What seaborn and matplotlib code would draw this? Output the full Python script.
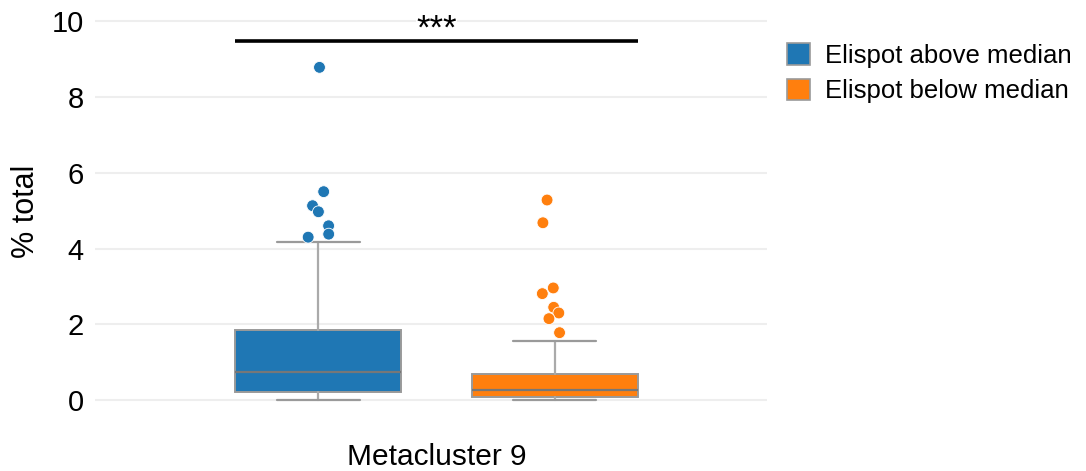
import numpy as np
import pandas as pd
import matplotlib
matplotlib.use("Agg")
import matplotlib.pyplot as plt
from matplotlib.patches import Patch
import seaborn as sns

# ---- data -------------------------------------------------------------
cluster = "Metacluster 9"
groups = ["Elispot above median", "Elispot below median"]
colors = ["#1f77b4", "#ff7f0e"]

# five-number summaries (whisker low, Q1, median, Q3, whisker high)
whisker_low = [0.0, 0.0]
q1 = [0.22, 0.07]
medians = [0.74, 0.26]
q3 = [1.84, 0.70]
whisker_high = [4.16, 1.56]

# points beyond the whiskers
outliers_above = [8.78, 5.50, 5.13, 4.97, 4.60, 4.38, 4.30]
outliers_below = [5.28, 4.68, 2.96, 2.81, 2.45, 2.30, 2.15, 1.78]

sig_label = "***"
sig_y = 9.47
y_ticks = [0, 2, 4, 6, 8, 10]

# ---- style ------------------------------------------------------------
sns.set_theme(style="white")
plt.rcParams["font.family"] = ["Liberation Sans", "DejaVu Sans"]
plt.rcParams["text.color"] = "black"
plt.rcParams["axes.labelcolor"] = "black"
plt.rcParams["xtick.color"] = "black"
plt.rcParams["ytick.color"] = "black"

fig = plt.figure(figsize=(10.86, 4.71), dpi=100)
ax = fig.add_axes([0.0875, 0.1295, 0.6185, 0.845])

# outlier points, dodged by group
pts = pd.DataFrame({
    "cluster": cluster,
    "group": [groups[0]] * len(outliers_above) + [groups[1]] * len(outliers_below),
    "value": outliers_above + outliers_below,
})
np.random.seed(3)
sns.stripplot(data=pts, x="cluster", y="value", hue="group", hue_order=groups,
              palette=colors, dodge=True, jitter=0.045, size=8.5,
              linewidth=0.6, edgecolor="white", ax=ax, legend=False, zorder=3)

# boxes from the summaries
positions = [-0.2, 0.2]
box_w = 0.28
stats = []
for i in range(2):
    stats.append(dict(whislo=whisker_low[i], q1=q1[i], med=medians[i],
                      q3=q3[i], whishi=whisker_high[i], fliers=[]))
bp = ax.bxp(stats, positions=positions, widths=box_w, patch_artist=True,
            showfliers=False, manage_ticks=False,
            boxprops=dict(edgecolor="#9a9a9a", linewidth=1.4),
            medianprops=dict(color="#777777", linewidth=1.6),
            whiskerprops=dict(color="#aaaaaa", linewidth=1.6),
            capprops=dict(color="#9a9a9a", linewidth=1.6),
            capwidths=box_w / 2)
for patch, c in zip(bp["boxes"], colors):
    patch.set_facecolor(c)
    patch.set_zorder(2)

# significance bar
x0 = positions[0] - box_w / 2
x1 = positions[1] + box_w / 2
ax.plot([x0, x1], [sig_y, sig_y], color="black", lw=2.6, solid_capstyle="butt", zorder=5)
ax.text((x0 + x1) / 2, sig_y - 0.12, sig_label, ha="center", va="bottom",
        fontsize=25, color="black", zorder=4,
        bbox=dict(facecolor="white", edgecolor="none", pad=0.5))

# axes
ax.set_xlim(-0.577, 0.558)
ax.set_ylim(-0.26, 10.24)
ax.set_yticks(y_ticks)
ax.set_xticks([0])
ax.set_xticklabels([cluster])
ax.set_xlabel("")
ax.set_ylabel("% total", fontsize=22, labelpad=8)
ax.tick_params(axis="y", labelsize=21, length=0, pad=8)
ax.tick_params(axis="x", labelsize=21.5, length=0, pad=24)
ax.yaxis.grid(True, color="#eeeeee", linewidth=1.5)
ax.set_axisbelow(True)
for s in ax.spines.values():
    s.set_visible(False)

handles = [Patch(facecolor=c, edgecolor="#9a9a9a", linewidth=1.2) for c in colors]
fig.legend(handles, groups, loc="upper left", bbox_to_anchor=(0.7155, 0.93),
           frameon=False, fontsize=18.5, handlelength=0.9, handleheight=0.9,
           handletextpad=0.55, labelspacing=0.42, borderaxespad=0)

fig.savefig("out.png", dpi=100)
